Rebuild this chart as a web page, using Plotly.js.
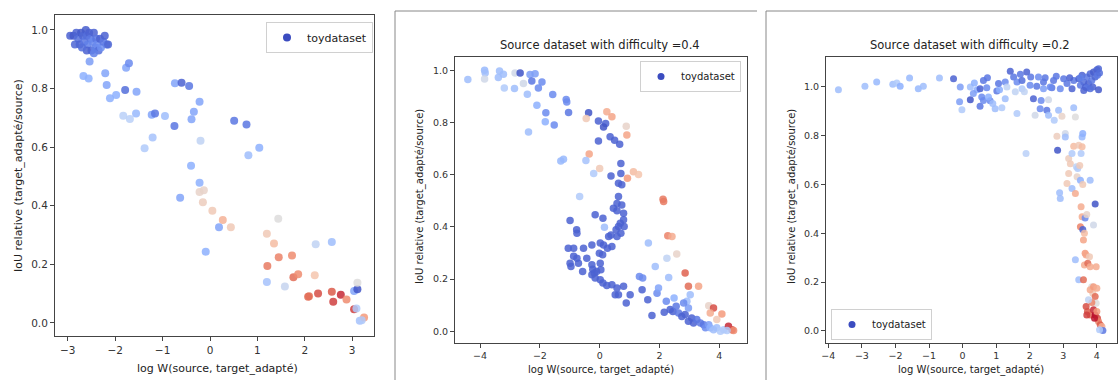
<!DOCTYPE html>
<html>
<head>
<meta charset="utf-8">
<script src="https://cdn.plot.ly/plotly-3.0.1.min.js"></script>
<style>html,body{margin:0;padding:0;background:#fff;}#chart{width:1118px;height:380px;}</style>
</head>
<body>
<div id="chart"></div>
<script>
// ---------- Panel 1 (no title) ----------
const p1_x = [-2.95,-2.88,-2.82,-2.78,-2.75,-2.72,-2.68,-2.65,-2.62,-2.6,-2.58,-2.55,-2.52,-2.5,-2.48,-2.45,-2.42,-2.4,-2.38,-2.35,-2.32,-2.3,-2.25,-2.22,-2.18,-2.15,-2.6,-2.7,-2.85,-2.45,
  -2.54,-2.67,-2.56,-2.21,-2.18,-1.77,-1.71,-2.11,-1.98,-1.79,-1.55,-1.83,-1.69,-1.56,-1.23,-1.16,-0.95,-0.75,-1.21,-1.38,
  -0.74,-0.60,-0.44,-0.22,-0.34,-0.39,-0.2,-0.40,-0.22,-0.63,0.51,0.77,0.81,1.04,
  -0.22,-0.13,-0.15,0.05,0.27,0.19,0.44,-0.09,1.20,1.35,1.44,1.45,1.73,1.21,1.76,1.86,1.20,1.58,
  2.23,2.57,2.21,2.09,2.28,2.57,2.60,2.76,2.88,3.04,3.11,3.11,3.04,3.09,3.16,3.25,3.2,2.07];
const p1_y = [0.98,0.98,0.99,0.97,0.95,0.99,0.98,0.96,1.0,0.98,0.95,0.99,0.97,0.93,0.96,0.99,0.94,0.97,0.95,0.93,0.97,0.94,0.96,0.98,0.95,0.95,0.93,0.94,0.95,0.92,
  0.892,0.843,0.834,0.852,0.812,0.871,0.886,0.767,0.778,0.795,0.789,0.707,0.696,0.715,0.710,0.715,0.706,0.672,0.633,0.596,
  0.818,0.820,0.809,0.755,0.721,0.695,0.622,0.536,0.478,0.427,0.690,0.677,0.572,0.598,
  0.447,0.453,0.412,0.383,0.351,0.326,0.326,0.243,0.304,0.271,0.355,0.224,0.230,0.194,0.156,0.166,0.139,0.124,
  0.268,0.276,0.162,0.091,0.100,0.106,0.072,0.096,0.080,0.109,0.115,0.137,0.046,0.049,0.007,0.018,0.009,0.089];
const p1_c = [0.05,0.03,0.05,0.08,0.05,0.03,0.06,0.1,0.04,0.08,0.12,0.05,0.1,0.06,0.14,0.05,0.12,0.1,0.15,0.08,0.05,0.16,0.1,0.05,0.12,0.06,0.05,0.08,0.06,0.12,
  0.2,0.25,0.25,0.22,0.22,0.22,0.15,0.25,0.25,0.08,0.22,0.38,0.38,0.28,0.22,0.1,0.3,0.1,0.32,0.35,
  0.22,0.05,0.1,0.22,0.22,0.22,0.4,0.25,0.25,0.22,0.1,0.1,0.3,0.25,
  0.55,0.55,0.58,0.6,0.68,0.22,0.6,0.25,0.6,0.65,0.5,0.8,0.78,0.82,0.85,0.78,0.32,0.42,
  0.4,0.3,0.62,0.82,0.9,0.88,0.92,0.95,0.78,0.22,0.02,0.5,0.92,0.35,0.32,0.75,0.35,0.85];

// ---------- Panel 2 : difficulty 0.4 ----------
const p2_x = [-4.41,-3.85,-3.83,-3.85,-3.35,-3.39,-3.22,-3.19,-2.85,-2.83,-2.66,-2.55,-2.42,-2.33,-2.27,-2.16,-2.05,-1.93,-2.10,-1.80,-1.82,-1.52,-2.38,-1.57,-1.12,-1.10,-1.04,-1.30,-1.21,-0.67,
  -0.37,-0.45,-0.35,-0.46,-0.20,0.0,-0.04,0.20,0.24,0.41,-0.04,0.35,0.50,0.67,0.89,0.91,0.13,0.71,0.38,0.71,1.13,1.30,0.93,0.63,0.74,0.63,0.58,0.74,0.80,0.46,
  0.58,0.80,0.69,0.63,0.82,0.55,0.71,0.38,0.58,0.30,0.16,-0.15,0.11,-0.99,-0.77,-0.76,-1.05,-0.87,-0.54,-0.26,0.02,0.13,0.26,0.41,-0.01,0.10,-0.87,-0.76,-0.43,-0.99,
  -0.71,-0.96,-0.57,-0.26,-0.23,-0.18,-0.10,0.02,0.04,-0.26,-0.15,0.02,0.11,0.24,0.41,0.58,0.52,0.63,0.80,0.89,1.02,1.33,1.44,1.42,1.63,1.61,1.75,1.92,1.97,1.86,
  2.14,2.12,2.28,2.42,2.25,2.31,2.58,2.86,2.97,3.31,2.23,2.16,2.36,2.45,2.49,2.56,2.64,2.75,2.86,2.92,2.97,2.97,3.08,3.14,3.25,3.37,3.48,3.54,3.65,3.70,
  3.81,3.92,4.04,4.15,3.65,3.81,3.70,4.09,3.92,4.31,4.43,4.48,4.26,3.03,2.81];
const p2_y = [0.965,1.0,0.99,0.967,0.997,0.972,0.985,0.932,0.930,0.990,0.990,0.949,0.908,0.984,0.959,0.987,0.932,0.955,0.866,0.837,0.803,0.790,0.764,0.907,0.888,0.879,0.838,0.652,0.659,0.516,
  0.837,0.815,0.679,0.654,0.605,0.624,0.806,0.796,0.841,0.822,0.729,0.745,0.732,0.717,0.786,0.752,0.783,0.643,0.595,0.605,0.611,0.601,0.586,0.567,0.561,0.516,0.490,0.484,0.452,0.471,
  0.462,0.427,0.414,0.401,0.401,0.389,0.376,0.369,0.363,0.363,0.399,0.446,0.433,0.424,0.389,0.376,0.318,0.318,0.318,0.331,0.338,0.331,0.318,0.325,0.299,0.293,0.287,0.280,0.280,0.261,
  0.261,0.248,0.229,0.255,0.238,0.223,0.229,0.261,0.236,0.217,0.204,0.197,0.185,0.175,0.178,0.166,0.140,0.140,0.172,0.108,0.140,0.210,0.204,0.159,0.338,0.121,0.060,0.146,0.166,0.248,
  0.497,0.506,0.366,0.363,0.280,0.206,0.296,0.223,0.172,0.172,0.115,0.073,0.083,0.076,0.127,0.096,0.070,0.057,0.064,0.115,0.089,0.038,0.051,0.032,0.045,0.032,0.025,0.013,0.025,0.013,
  0.006,0.013,0.0,0.006,0.098,0.089,0.070,0.066,0.045,0.019,0.006,0.003,0.003,0.140,0.108];
const p2_c = [0.3,0.28,0.3,0.45,0.3,0.3,0.3,0.35,0.3,0.45,0.02,0.45,0.3,0.2,0.1,0.2,0.15,0.15,0.25,0.15,0.25,0.15,0.3,0.15,0.15,0.15,0.1,0.28,0.28,0.35,
  0.02,0.6,0.72,0.32,0.35,0.6,0.05,0.05,0.7,0.72,0.05,0.05,0.05,0.05,0.55,0.72,0.02,0.05,0.05,0.05,0.65,0.62,0.75,0.05,0.05,0.05,0.05,0.05,0.05,0.05,
  0.05,0.05,0.05,0.05,0.05,0.05,0.05,0.05,0.05,0.05,0.3,0.05,0.05,0.05,0.05,0.05,0.05,0.05,0.05,0.05,0.05,0.05,0.05,0.05,0.05,0.05,0.05,0.05,0.05,0.05,
  0.05,0.05,0.05,0.05,0.05,0.05,0.05,0.05,0.05,0.05,0.05,0.05,0.05,0.05,0.05,0.05,0.05,0.05,0.05,0.05,0.05,0.15,0.15,0.05,0.3,0.05,0.05,0.15,0.22,0.3,
  0.82,0.82,0.8,0.7,0.4,0.3,0.55,0.87,0.85,0.72,0.15,0.05,0.05,0.05,0.25,0.1,0.1,0.05,0.05,0.3,0.2,0.05,0.05,0.05,0.1,0.1,0.1,0.15,0.2,0.25,
  0.3,0.3,0.35,0.35,0.55,0.9,0.7,0.75,0.6,0.95,0.9,0.78,0.35,0.3,0.15];

// ---------- Panel 3 : difficulty 0.2 ----------
const p3_x = [-3.70,-2.91,-2.56,-2.08,-1.96,-1.86,-1.58,-1.32,-1.17,-0.69,-0.27,-0.07,-0.09,-0.02,0.23,0.23,0.35,0.43,0.52,0.57,0.62,0.72,0.74,0.82,0.90,1.02,1.10,1.17,1.27,1.27,
  1.42,1.52,1.57,1.62,1.72,1.77,1.84,1.89,1.91,2.03,2.11,2.16,2.21,2.26,2.31,2.34,2.41,2.46,2.51,2.56,2.56,2.66,2.73,2.79,2.81,2.83,2.86,2.89,2.91,2.91,
  2.96,3.01,3.06,3.06,3.11,3.16,3.16,3.21,3.26,3.26,3.26,3.31,3.31,3.36,3.36,3.36,3.39,3.41,3.43,3.46,3.46,3.49,3.51,3.53,3.53,3.56,3.58,3.56,3.58,3.56,
  3.51,3.58,3.60,3.60,3.63,3.65,3.70,3.65,3.68,3.63,3.73,3.80,3.80,3.78,3.85,3.88,3.80,3.95,3.90,3.98,3.90,4.0,3.95,3.98,3.85,3.72,3.80,3.90,3.95,4.0,
  4.02,4.05,4.10,4.15,4.18,4.08,3.68,3.70,3.93,3.75,
  3.31,3.46,3.51,3.56,3.61,3.66,3.70,3.75,3.80,3.85,3.88,3.90,3.95,4.0,4.02,4.05,4.08,4.05,3.70,3.80,3.51,3.61,
  0.32,0.52,0.62,0.77,0.97,1.07,1.32,1.62,1.77,2.01,2.41,2.61,2.71,3.11,3.19];
const p3_y = [0.989,1.003,1.020,1.011,1.016,1.003,1.037,0.993,1.003,1.037,1.034,1.0,0.939,0.907,0.948,1.0,1.016,0.989,0.921,0.959,1.027,0.997,1.038,0.944,0.932,0.984,0.989,0.915,0.952,1.020,
  1.065,1.041,0.980,0.891,1.052,0.993,0.980,0.727,1.061,1.041,0.952,0.884,1.003,1.041,0.911,0.945,0.993,1.038,0.905,0.948,0.884,0.997,0.864,1.044,0.798,0.741,0.905,0.566,0.543,0.993,
  0.880,1.034,0.809,0.795,0.604,0.707,0.645,0.685,0.993,0.584,0.727,0.915,0.757,0.877,0.563,0.291,0.673,0.632,0.666,0.209,0.761,0.678,0.618,0.727,0.509,0.795,0.809,0.755,0.600,0.468,
  0.427,0.416,0.209,0.372,0.400,0.463,0.477,0.318,0.311,0.270,0.277,0.618,0.263,0.304,0.181,0.154,0.168,0.520,0.434,0.263,0.181,0.175,0.141,0.113,0.116,0.079,0.065,0.086,0.065,0.079,
  0.052,0.038,0.025,0.018,0.001,0.004,0.100,0.065,0.052,0.127,
  1.027,1.034,1.007,1.048,1.020,1.0,1.041,1.014,1.054,1.027,1.0,1.061,1.041,1.071,1.048,1.075,1.057,0.989,0.997,0.993,1.038,0.986,
  0.973,0.993,0.945,0.959,0.911,1.014,1.0,1.020,1.027,1.007,1.020,1.0,1.027,1.014,1.038];
const p3_c = [0.3,0.3,0.28,0.3,0.35,0.25,0.28,0.28,0.3,0.3,0.05,0.2,0.2,0.35,0.02,0.3,0.25,0.25,0.1,0.15,0.1,0.15,0.1,0.15,0.3,0.1,0.25,0.35,0.3,0.15,
  0.05,0.1,0.4,0.35,0.1,0.35,0.4,0.38,0.05,0.1,0.05,0.45,0.1,0.15,0.15,0.15,0.2,0.1,0.1,0.45,0.3,0.1,0.35,0.1,0.58,0.02,0.3,0.3,0.3,0.15,
  0.55,0.1,0.45,0.3,0.6,0.58,0.6,0.6,0.05,0.3,0.35,0.3,0.65,0.5,0.7,0.3,0.4,0.55,0.35,0.3,0.6,0.6,0.25,0.35,0.7,0.28,0.25,0.65,0.6,0.7,
  0.8,0.05,0.85,0.72,0.65,0.15,0.55,0.75,0.72,0.7,0.85,0.3,0.7,0.6,0.5,0.6,0.7,0.02,0.45,0.7,0.75,0.7,0.85,0.5,0.8,0.88,0.85,0.95,1.0,0.75,
  0.9,0.8,0.88,0.7,0.1,0.35,0.9,0.92,0.98,0.4,
  0.1,0.05,0.1,0.05,0.08,0.05,0.1,0.05,0.06,0.1,0.05,0.04,0.06,0.05,0.1,0.06,0.08,0.03,0.1,0.08,0.12,0.05,
  0.2,0.05,0.15,0.25,0.3,0.1,0.4,0.15,0.08,0.15,0.1,0.15,0.1,0.1,0.05];

const panelTitles = ["", "Source dataset with difficulty =0.4", "Source dataset with difficulty =0.2"];
const xLabel = "log W(source, target_adapté)";
const yLabel = "IoU relative (target_adapté/source)";
const seriesName = "toydataset";

// coolwarm colormap samples
const coolwarm = [[0,'#3b4cc0'],[0.125,'#6282ea'],[0.25,'#8db0fe'],[0.375,'#b9d0f9'],[0.5,'#dddcdc'],[0.625,'#f5c4ac'],[0.75,'#f49a7b'],[0.875,'#de604d'],[1,'#b40426']];

const W = 1118, H = 380;
const px = v => v / W, py = v => 1 - v / H;
const FONT = 'DejaVu Sans, sans-serif';

function pts(x, y, c, xa, ya, size) {
  return {type:'scatter', mode:'markers', x:x, y:y, xaxis:xa, yaxis:ya, showlegend:false, hoverinfo:'skip',
    marker:{color:c, colorscale:coolwarm, cmin:0, cmax:1, size:size, opacity:0.85, line:{width:0}}};
}
function legTrace(xa, ya, leg, size) {
  return {type:'scatter', mode:'markers', x:[null], y:[null], xaxis:xa, yaxis:ya, name:seriesName, legend:leg,
    marker:{color:'#3b4cc0', size:size}};
}

const data = [
  pts(p1_x, p1_y, p1_c, 'x', 'y', 8),
  pts(p2_x, p2_y, p2_c, 'x2', 'y2', 7.5),
  pts(p3_x, p3_y, p3_c, 'x3', 'y3', 7),
  legTrace('x','y','legend', 8),
  legTrace('x2','y2','legend2', 7),
  legTrace('x3','y3','legend3', 7)
];

function axis(domain, range, dtick, fs, anchor, fmt) {
  return {domain:domain, range:range, dtick:dtick, tick0:0, anchor:anchor, showgrid:false, zeroline:false,
    showline:true, mirror:true, linecolor:'#444', linewidth:1, ticks:'outside', ticklen:4, tickcolor:'#444',
    tickfont:{family:FONT, size:fs, color:'#333'}, tickformat:fmt, fixedrange:true};
}

const legendBase = {bgcolor:'rgba(255,255,255,0.85)', bordercolor:'#d0d0d0', borderwidth:1,
  itemsizing:'trace', tracegroupgap:0, itemwidth:30};

const ann = (text, x, y, size, angle) => ({text:text, x:px(x), y:py(y), xref:'paper', yref:'paper', showarrow:false,
  xanchor:'center', yanchor:'middle', textangle:angle || 0, font:{family:FONT, size:size, color:'#222'}});

const layout = {
  width:W, height:H, margin:{l:0,r:0,t:0,b:0}, paper_bgcolor:'#fff', plot_bgcolor:'#fff',
  font:{family:FONT, color:'#222'},
  xaxis: axis([px(55), px(374)], [-3.27, 3.46], 1, 10.5, 'y', ''),
  yaxis: axis([py(336), py(15)], [-0.045, 1.051], 0.2, 10.5, 'x', '.1f'),
  xaxis2: axis([px(455), px(747)], [-4.84, 4.93], 2, 9.5, 'y2', ''),
  yaxis2: axis([py(343), py(57)], [-0.045, 1.051], 0.2, 9.5, 'x2', '.1f'),
  xaxis3: axis([px(826), px(1117)], [-4.07, 4.6], 1, 9.5, 'y3', ''),
  yaxis3: axis([py(343), py(57)], [-0.05, 1.123], 0.2, 9.5, 'x3', '.1f'),
  legend: Object.assign({}, legendBase, {x:px(373), y:py(22), xanchor:'right', yanchor:'top', font:{family:FONT, size:11, color:'#222'}}),
  legend2: Object.assign({}, legendBase, {x:px(741), y:py(61), xanchor:'right', yanchor:'top', font:{family:FONT, size:10, color:'#222'}}),
  legend3: Object.assign({}, legendBase, {x:px(831), y:py(340), xanchor:'left', yanchor:'bottom', font:{family:FONT, size:10, color:'#222'}}),
  annotations: [
    ann(xLabel, 217, 368, 11),
    ann(yLabel, 18, 176, 11, -90),
    ann(xLabel, 601, 370, 10),
    ann(yLabel, 420, 197, 10, -90),
    ann(xLabel, 971, 370, 10),
    ann(yLabel, 792, 197, 10, -90),
    ann(panelTitles[1], 600, 45, 11.5),
    ann(panelTitles[2], 970, 45, 11.5)
  ],
  shapes: [
    {type:'line', xref:'paper', yref:'paper', x0:px(395), x1:px(757), y0:py(11), y1:py(11), line:{color:'#888', width:1}},
    {type:'line', xref:'paper', yref:'paper', x0:px(395), x1:px(395), y0:py(11), y1:0, line:{color:'#888', width:1}},
    {type:'line', xref:'paper', yref:'paper', x0:px(766), x1:1, y0:py(11), y1:py(11), line:{color:'#888', width:1}},
    {type:'line', xref:'paper', yref:'paper', x0:px(766), x1:px(766), y0:py(11), y1:0, line:{color:'#888', width:1}}
  ]
};

Plotly.newPlot('chart', data, layout, {displayModeBar:false, staticPlot:true});
</script>
</body>
</html>
